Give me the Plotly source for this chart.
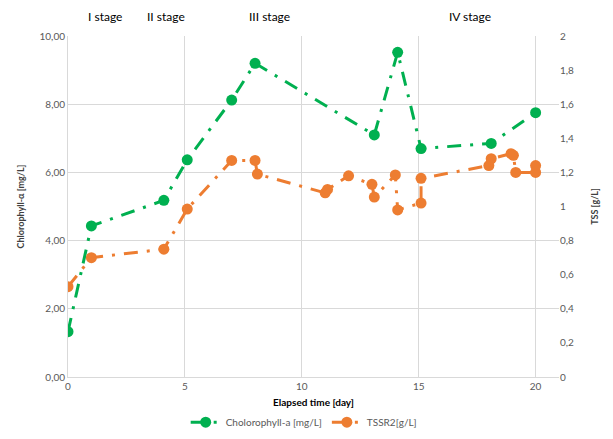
import plotly.graph_objects as go

# Chlorophyll-a series (left axis)
chl_day = [0, 1, 4.1, 5.1, 7, 8, 13.1, 14.1, 15.1, 18.1, 20]
chl_val = [1.33, 4.43, 5.18, 6.37, 8.12, 9.2, 7.1, 9.52, 6.7, 6.85, 7.75]

# TSS series (right axis)
tss_day = [0, 1, 4.1, 5.1, 7, 8, 8.1, 11.0, 11.1, 12, 13, 13.1, 14, 14.1, 15.1, 15.1, 18.0, 18.1, 18.95, 19.05, 19.15, 20, 20]
tss_val = [0.53, 0.70, 0.75, 0.985, 1.27, 1.27, 1.19, 1.08, 1.10, 1.18, 1.13, 1.055, 1.185, 0.98, 1.02, 1.165, 1.24, 1.28, 1.31, 1.30, 1.20, 1.20, 1.24]

left_ticks = [0, 2, 4, 6, 8, 10]
left_labels = ["0,00", "2,00", "4,00", "6,00", "8,00", "10,00"]
right_ticks = [0, 0.2, 0.4, 0.6, 0.8, 1, 1.2, 1.4, 1.6, 1.8, 2]
right_labels = ["0", "0,2", "0,4", "0,6", "0,8", "1", "1,2", "1,4", "1,6", "1,8", "2"]

stage_names = ["I stage", "II stage", "III stage", "IV stage"]
stage_pos = [1.6, 4.2, 8.6, 17.2]

GREEN = "#00B050"
ORANGE = "#ED7D31"
DASH = "14px,9px,3px,9px"
FONT = "Lato"

fig = go.Figure()
fig.add_trace(go.Scatter(
    x=chl_day, y=chl_val, name="Cholorophyll-a [mg/L]", mode="lines+markers",
    line=dict(color=GREEN, width=3, dash=DASH),
    marker=dict(color=GREEN, size=11), yaxis="y"))
fig.add_trace(go.Scatter(
    x=tss_day, y=tss_val, name="TSSR2[g/L]", mode="lines+markers",
    line=dict(color=ORANGE, width=3, dash=DASH),
    marker=dict(color=ORANGE, size=11), yaxis="y2"))

for name, pos in zip(stage_names, stage_pos):
    fig.add_annotation(x=pos, xref="x", y=1.056, yref="paper", text=name,
                       showarrow=False, font=dict(family=FONT, size=12, color="black"),
                       xanchor="center", yanchor="middle")

fig.update_layout(
    width=605, height=431,
    margin=dict(l=60, r=54, t=28, b=62, autoexpand=False),
    paper_bgcolor="white", plot_bgcolor="white",
    font=dict(family=FONT, size=10, color="#595959"),
    showlegend=True,
    legend=dict(orientation="h", x=0.48, xanchor="center", y=0.039, yref="container",
                yanchor="middle", font=dict(family=FONT, size=10, color="#595959")),
    xaxis=dict(range=[0, 21], tickvals=[0, 5, 10, 15, 20], showgrid=True,
               gridcolor="#d9d9d9", gridwidth=1, zeroline=False, automargin=False,
               showline=True, linecolor="#d9d9d9", linewidth=1,
               ticks="", tickfont=dict(size=10, color="#595959"),
               title=dict(text="<b>Elapsed time [day]</b>", standoff=9,
                          font=dict(size=10, color="black"))),
    yaxis=dict(range=[0, 10], tickvals=left_ticks, ticktext=left_labels,
               showgrid=True, gridcolor="#d9d9d9", zeroline=False, automargin=False,
               showline=True, linecolor="#d9d9d9", ticks="",
               tickfont=dict(size=10, color="#595959"),
               title=dict(text="<b>Chlorophyll-α [mg/L]</b>", standoff=13,
                          font=dict(size=9, color="#404040"))),
    yaxis2=dict(range=[0, 2], tickvals=right_ticks, ticktext=right_labels,
                overlaying="y", side="right", showgrid=False, zeroline=False,
                automargin=False,
                showline=False, ticks="", tickfont=dict(size=10, color="#595959"),
                title=dict(text="<b>TSS [g/L]</b>", standoff=18,
                           font=dict(size=9, color="#404040"))),
)

fig.write_html("out.html")
